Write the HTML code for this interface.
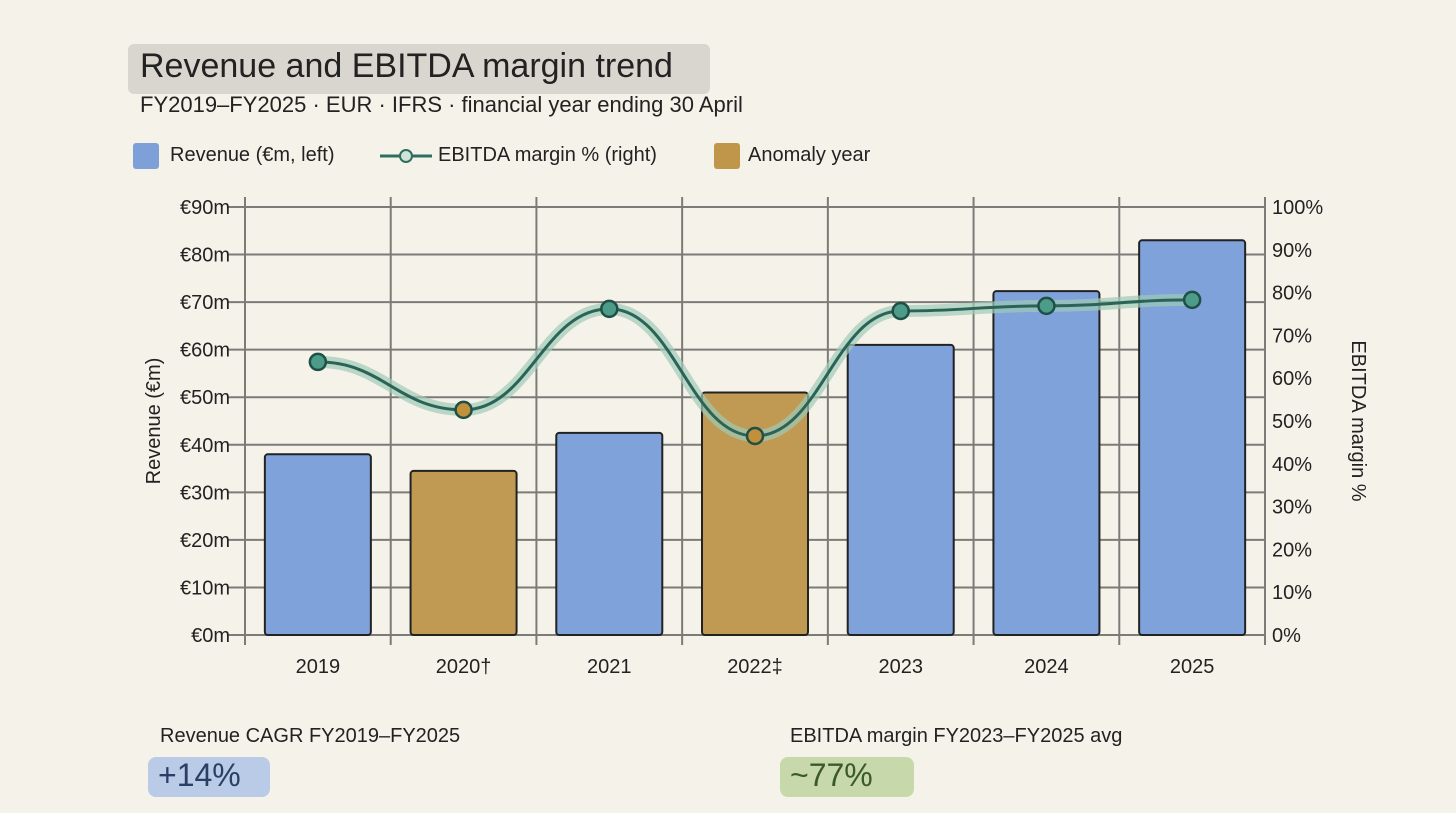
<!DOCTYPE html>
<html><head><meta charset="utf-8">
<style>
html,body{margin:0;padding:0;background:#f5f2e9;}
body{width:1456px;height:813px;position:relative;overflow:hidden;font-family:"Liberation Sans",sans-serif;color:#222;}
.t{position:absolute;white-space:nowrap;}
</style></head>
<body>
<div class="t" style="left:128px;top:44px;width:582px;height:50px;background:#d6d3cc;border-radius:6px;opacity:.9"></div>
<div class="t" style="left:140px;top:47px;font-size:34px;">Revenue and EBITDA margin trend</div>
<div class="t" style="left:140px;top:92px;font-size:22px;">FY2019–FY2025 · EUR · IFRS · financial year ending 30 April</div>
<div>
<div class="t" style="left:133px;top:143px;width:26px;height:26px;background:#7da0d8;border-radius:3px"></div>
<div class="t" style="left:170px;top:144px;font-size:20px;">Revenue (€m, left)</div>
<svg class="t" style="left:378px;top:146px" width="56" height="20"><line x1="2" y1="10" x2="54" y2="10" stroke="#2e6e5e" stroke-width="3"/><circle cx="28" cy="10" r="6" fill="#cfe3d9" stroke="#2e6e5e" stroke-width="2"/></svg>
<div class="t" style="left:438px;top:144px;font-size:20px;">EBITDA margin % (right)</div>
<div class="t" style="left:714px;top:143px;width:26px;height:26px;background:#bf964a;border-radius:3px"></div>
<div class="t" style="left:748px;top:144px;font-size:20px;">Anomaly year</div>
</div>
<svg id="chart" width="1456" height="813" style="position:absolute;left:0;top:0"></svg>
<div class="t" style="left:160px;top:725px;font-size:20px;">Revenue CAGR FY2019–FY2025</div>
<div class="t" style="left:148px;top:757px;width:122px;height:40px;background:#b9cbe6;border-radius:8px"></div>
<div class="t" style="left:158px;top:757px;font-size:32px;color:#2b3f66">+14%</div>
<div class="t" style="left:790px;top:725px;font-size:20px;">EBITDA margin FY2023–FY2025 avg</div>
<div class="t" style="left:780px;top:757px;width:134px;height:40px;background:#c7d9ab;border-radius:8px"></div>
<div class="t" style="left:790px;top:757px;font-size:32px;color:#3a5a2a">~77%</div>
<script>
const categories=["2019","2020†","2021","2022‡","2023","2024","2025"];
const revenue=[38,34.5,42.5,51,61,72.3,83];
const margin=[63.8,52.6,76.2,46.5,75.7,76.9,78.3];
const anomaly=[false,true,false,true,false,false,false];
const leftTicks=[0,10,20,30,40,50,60,70,80,90];
const rightTicks=[0,10,20,30,40,50,60,70,80,90,100];
const X0=245,X1=1265,Y0=635,Y1=207;
const bw=(X1-X0)/categories.length;
const xc=i=>X0+bw*(i+0.5);
const yL=v=>Y0-(v/90)*(Y0-Y1);
const yR=v=>Y0-(v/100)*(Y0-Y1);
const svg=document.getElementById('chart');
const NS="http://www.w3.org/2000/svg";
function mk(t,a){const e=document.createElementNS(NS,t);for(const k in a)e.setAttribute(k,a[k]);svg.appendChild(e);return e;}
leftTicks.forEach(v=>{
 const g=mk('line',{x1:X0-18,x2:X1,y1:yL(v),y2:yL(v),stroke:'#7b7b78','stroke-width':2});
 
 
 const t=mk('text',{x:230,y:yL(v)+7,'text-anchor':'end','font-size':20,fill:'#222'});
 t.textContent='€'+v+'m';
 
 
});
for(let i=0;i<=categories.length;i++){
 const g=mk('line',{x1:X0+bw*i,x2:X0+bw*i,y1:Y1-10,y2:Y0+10,stroke:'#7b7b78','stroke-width':2});
 
 
}
rightTicks.forEach(v=>{
 const t=mk('text',{x:1272,y:yR(v)+7,'font-size':20,fill:'#222'});
 t.textContent=v+'%';
 
 
});
categories.forEach((c,i)=>{
 const b=mk('rect',{x:xc(i)-53,y:yL(revenue[i]),width:106,height:Y0-yL(revenue[i]),fill:anomaly[i]?'#c09a52':'#7ea2d9',stroke:'#222','stroke-width':2,rx:3});
 
 
 const t=mk('text',{x:xc(i),y:673,'text-anchor':'middle','font-size':20,fill:'#222'});
 t.textContent=c;
 
 
});
let d='';
const pts=margin.map((m,i)=>[xc(i),yR(m)]);
pts.forEach((p,i)=>{
 if(i===0){d+='M'+p[0]+','+p[1];return;}
 const q=pts[i-1],k=bw*0.45;
 d+=' C'+(q[0]+k)+','+q[1]+' '+(p[0]-k)+','+p[1]+' '+p[0]+','+p[1];
});
const halo=mk('path',{d:d,fill:'none',stroke:'#9fcab8','stroke-width':12,opacity:.7,'stroke-linecap':'round'});


const ln=mk('path',{d:d,fill:'none',stroke:'#2a6457','stroke-width':3});


pts.forEach((p,i)=>{
 const c=mk('circle',{cx:p[0],cy:p[1],r:8,fill:anomaly[i]?'#c0913a':'#4d9c8a',stroke:'#1f4f45','stroke-width':2.5});
 
 
});
const yl=mk('text',{x:0,y:0,transform:'translate(160,421) rotate(-90)','text-anchor':'middle','font-size':20,fill:'#222'});
yl.textContent='Revenue (€m)';


const yr=mk('text',{x:0,y:0,transform:'translate(1352,421) rotate(90)','text-anchor':'middle','font-size':20,fill:'#222'});
yr.textContent='EBITDA margin %';


</script>
</body></html>
